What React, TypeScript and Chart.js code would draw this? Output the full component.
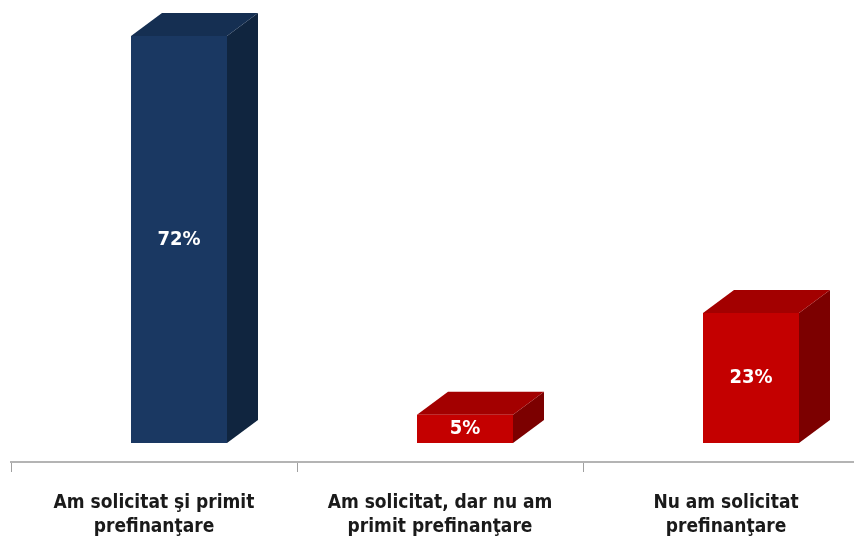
import React, { useEffect, useRef } from "react";
import { Chart, registerables } from "chart.js";

Chart.register(...registerables);

const categories: string[][] = [
  ["Am solicitat şi primit", "prefinanţare"],
  ["Am solicitat, dar nu am", "primit prefinanţare"],
  ["Nu am solicitat", "prefinanţare"],
];
const values: number[] = [72, 5, 23];
const valueLabels: string[] = ["72%", "5%", "23%"];

const frontColors = ["#1a3862", "#c40000", "#c40000"];
const sideColors = ["#10253f", "#7c0000", "#7c0000"];
const topColors = ["#152f52", "#a30000", "#a30000"];

const FONT = "'Liberation Sans Narrow', 'DejaVu Sans Condensed', 'Liberation Sans', sans-serif";

const DX = 31;
const DY = 23;
const SHIFT = 25;

const bars3d = {
  id: "bars3d",
  afterDatasetsDraw(chart: any) {
    const ctx = chart.ctx;
    const meta = chart.getDatasetMeta(0);
    ctx.save();
    meta.data.forEach((bar: any, i: number) => {
      const p = bar.getProps(["x", "y", "base", "width"], true);
      const left = p.x - p.width / 2 + SHIFT;
      const right = left + p.width;
      const top = p.y;
      const bottom = p.base;
      // side
      ctx.fillStyle = sideColors[i];
      ctx.beginPath();
      ctx.moveTo(right, top);
      ctx.lineTo(right + DX, top - DY);
      ctx.lineTo(right + DX, bottom - DY);
      ctx.lineTo(right, bottom);
      ctx.closePath();
      ctx.fill();
      // top
      ctx.fillStyle = topColors[i];
      ctx.beginPath();
      ctx.moveTo(left, top);
      ctx.lineTo(left + DX, top - DY);
      ctx.lineTo(right + DX, top - DY);
      ctx.lineTo(right, top);
      ctx.closePath();
      ctx.fill();
      // front
      ctx.fillStyle = frontColors[i];
      ctx.fillRect(left, top, p.width, bottom - top);
      // label
      ctx.fillStyle = "#ffffff";
      ctx.font = `bold 20px ${FONT}`;
      ctx.textAlign = "center";
      ctx.textBaseline = "middle";
      ctx.fillText(valueLabels[i], (left + right) / 2, (top + bottom) / 2);
    });
    ctx.restore();
  },
};

export default function App() {
  const ref = useRef<HTMLCanvasElement | null>(null);
  useEffect(() => {
    if (!ref.current) return;
    const pxPerUnit = (443 - 36) / 72;
    const yMin = -(462 - 443) / pxPerUnit;
    const yMax = yMin + 462 / pxPerUnit;
    const chart = new Chart(ref.current, {
      type: "bar",
      data: {
        labels: categories,
        datasets: [
          {
            data: values,
            backgroundColor: "rgba(0,0,0,0)",
            borderWidth: 0,
            barPercentage: 96 / 286,
            categoryPercentage: 1,
          },
        ],
      },
      options: {
        animation: false,
        responsive: true,
        maintainAspectRatio: false,
        layout: { padding: { left: 11, right: 1, top: 0, bottom: 0 } },
        plugins: { legend: { display: false }, tooltip: { enabled: false } },
        scales: {
          y: { display: false, min: yMin, max: yMax },
          x: {
            afterFit(scale: any) {
              scale.height = 80;
            },
            border: { display: true, color: "#b4b4b4", width: 2 },
            grid: {
              offset: true,
              drawOnChartArea: false,
              drawTicks: true,
              tickLength: 10,
              color: "#a0a0a0",
              lineWidth: 1,
            },
            ticks: {
              color: "#1a1a1a",
              padding: 19,
              maxRotation: 0,
              autoSkip: false,
              font: { family: FONT, size: 19, weight: "bold", lineHeight: 1.25 },
            },
          },
        },
      },
      plugins: [bars3d],
    });
    return () => chart.destroy();
  }, []);
  return (
    <div
      style={{
        position: "fixed",
        left: 0,
        top: 0,
        width: 854,
        height: 542,
        overflow: "hidden",
        background: "#ffffff",
      }}
    >
      <div style={{ position: "relative", width: 870, height: 542 }}>
        <canvas ref={ref} />
      </div>
    </div>
  );
}
